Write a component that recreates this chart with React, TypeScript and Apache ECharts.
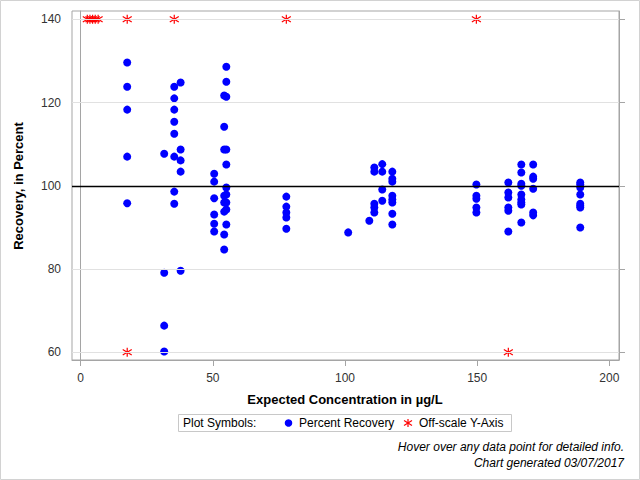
import React, { useEffect, useRef } from "react";
import * as echarts from "echarts";

// ---- data ----
const concentration = [17.6, 31.6, 35.4, 37.8, 50.5, 54.3, 55.1, 77.8, 101.2, 109.2, 111.1, 114.1, 117.9, 149.7, 161.8, 166.7, 171.2, 189.0];
const recovery = [
  [129.6, 123.8, 118.3, 107.0, 95.8],
  [107.7, 79.1, 66.4, 60.2],
  [123.8, 121.0, 118.3, 115.4, 112.5, 107.0, 98.6, 95.7],
  [124.8, 108.7, 106.1, 103.4, 79.6],
  [102.9, 101.0, 97.0, 93.1, 90.9, 89.0],
  [121.7, 114.2, 108.7, 97.6, 96.0, 93.8, 88.3, 84.7],
  [128.6, 125.0, 121.4, 108.7, 105.1, 99.6, 97.9, 96.0, 94.3, 90.7],
  [97.4, 95.0, 93.6, 92.4, 89.7],
  [88.8],
  [91.6],
  [104.4, 103.4, 95.7, 94.8, 93.6],
  [105.2, 103.4, 99.1, 96.4],
  [103.4, 101.7, 101.0, 97.6, 96.7, 96.0, 93.3, 90.7],
  [100.3, 97.6, 96.9, 94.8, 93.6],
  [100.8, 98.4, 97.2, 94.8, 94.0, 89.0],
  [105.1, 103.2, 100.5, 100.0, 97.9, 96.7, 96.0, 95.5, 91.2],
  [105.1, 102.2, 101.7, 99.3, 93.6, 92.9],
  [100.8, 100.3, 99.6, 97.9, 95.7, 95.2, 94.8, 90.0],
];
const offscaleX = [2.5, 3.5, 4.5, 5.5, 6.6, 17.6, 35.4, 77.8, 149.7, 17.6, 161.8];
const offscaleY = [140, 140, 140, 140, 140, 140, 140, 140, 140, 60, 60];
const xTicks = [0, 50, 100, 150, 200];
const yTicks = [60, 80, 100, 120, 140];
const referenceValue = 100;

const xTitle = "Expected Concentration in µg/L";
const yTitle = "Recovery, in Percent";
const legendLabel = "Plot Symbols:";
const seriesNames = ["Percent Recovery", "Off-scale Y-Axis"];
const footnotes = ["Hover over any data point for detailed info.", "Chart generated 03/07/2017"];

const FONT = "'Liberation Sans', Arial, sans-serif";
const STAR = "path://M0,-4L0,4M-4,-2.4L4,2.4M-4,2.4L4,-2.4";

export default function App() {
  const ref = useRef<HTMLDivElement>(null);
  useEffect(() => {
    if (!ref.current) return;
    const chart = echarts.init(ref.current, null, { renderer: "svg" });
    const recData: number[][] = [];
    concentration.forEach((c, i) => recovery[i].forEach((v) => recData.push([c, v])));
    const offData = offscaleX.map((x, i) => [x, offscaleY[i]]);

    const axisLineStyle = { color: "#a5a5a5", width: 1 };
    const yAxisBase = {
      type: "value",
      min: 58.15,
      max: 141.99,
      splitLine: { show: false },
      axisLine: { show: true, lineStyle: axisLineStyle },
      axisTick: { show: true, length: 6, customValues: yTicks, lineStyle: axisLineStyle },
    };

    chart.setOption({
      animation: false,
      backgroundColor: "#ffffff",
      textStyle: { fontFamily: FONT },
      grid: { left: 72, right: 21, top: 11, bottom: 120, show: true, borderColor: "#a5a5a5", borderWidth: 1 },
      xAxis: {
        type: "value",
        min: -3.29,
        max: 203.67,
        splitLine: { show: false },
        axisLine: { show: true, onZero: false, lineStyle: axisLineStyle },
        axisTick: { show: true, length: 6, customValues: xTicks, lineStyle: axisLineStyle },
        axisLabel: { customValues: xTicks, color: "#333", fontSize: 12, fontFamily: FONT, margin: 12 },
      },
      yAxis: [
        {
          ...yAxisBase,
          position: "left",
          axisLabel: { customValues: yTicks, color: "#333", fontSize: 12, fontFamily: FONT, margin: 11 },
        },
        {
          ...yAxisBase,
          position: "right",
          axisLabel: { show: false },
        },
      ],
      series: [
        {
          type: "scatter",
          silent: true,
          data: [],
          z: 1,
          markLine: {
            silent: true,
            symbol: "none",
            label: { show: false },
            lineStyle: { color: "#e1e1e1", width: 1, type: "solid" },
            data: yTicks.filter((v) => v !== referenceValue).map((v) => ({ yAxis: v })),
          },
        },
        {
          type: "scatter",
          silent: true,
          data: [],
          z: 2,
          markLine: {
            silent: true,
            symbol: "none",
            label: { show: false },
            lineStyle: { color: "#000000", width: 1.3, type: "solid" },
            data: [{ yAxis: referenceValue }],
          },
        },
        {
          name: seriesNames[0],
          type: "scatter",
          z: 3,
          symbol: "circle",
          symbolSize: 8,
          itemStyle: { color: "#0000ff", opacity: 1 },
          data: recData,
        },
        {
          name: seriesNames[1],
          type: "scatter",
          z: 4,
          clip: false,
          symbol: STAR,
          symbolSize: [9, 9],
          itemStyle: { color: "#ff0000", borderColor: "#ff0000", borderWidth: 1.2, opacity: 1 },
          data: offData,
        },
      ],
      graphic: [
        {
          type: "rect",
          shape: { x: 0.5, y: 0.5, width: 639, height: 479 },
          style: { fill: "none", stroke: "#d2d2d2", lineWidth: 1 },
          silent: true,
        },
        {
          type: "text",
          x: 345,
          y: 399,
          style: { text: xTitle, font: `bold 13px ${FONT}`, fill: "#000", align: "center", verticalAlign: "middle" },
        },
        {
          type: "text",
          x: 18,
          y: 186,
          rotation: Math.PI / 2,
          style: { text: yTitle, font: `bold 13px ${FONT}`, fill: "#000", align: "center", verticalAlign: "middle" },
        },
        {
          type: "rect",
          shape: { x: 178.5, y: 414.5, width: 333, height: 17 },
          style: { fill: "#fff", stroke: "#c8c8c8", lineWidth: 1 },
        },
        {
          type: "text",
          x: 183,
          y: 423,
          style: { text: legendLabel, font: `12px ${FONT}`, fill: "#000", align: "left", verticalAlign: "middle" },
        },
        {
          type: "circle",
          shape: { cx: 288.5, cy: 423, r: 3.8 },
          style: { fill: "#0000ff" },
        },
        {
          type: "text",
          x: 299,
          y: 423,
          style: { text: seriesNames[0], font: `12px ${FONT}`, fill: "#000", align: "left", verticalAlign: "middle" },
        },
        {
          type: "group",
          x: 408,
          y: 423,
          children: [
            { type: "line", shape: { x1: 0, y1: -4, x2: 0, y2: 4 }, style: { stroke: "#ff0000", lineWidth: 1.2 } },
            { type: "line", shape: { x1: -4, y1: -2.4, x2: 4, y2: 2.4 }, style: { stroke: "#ff0000", lineWidth: 1.2 } },
            { type: "line", shape: { x1: -4, y1: 2.4, x2: 4, y2: -2.4 }, style: { stroke: "#ff0000", lineWidth: 1.2 } },
          ],
        },
        {
          type: "text",
          x: 419,
          y: 423,
          style: { text: seriesNames[1], font: `12px ${FONT}`, fill: "#000", align: "left", verticalAlign: "middle" },
        },
        {
          type: "text",
          x: 624,
          y: 447,
          style: { text: footnotes[0], font: `italic 12px ${FONT}`, fill: "#000", align: "right", verticalAlign: "middle" },
        },
        {
          type: "text",
          x: 624,
          y: 463,
          style: { text: footnotes[1], font: `italic 12px ${FONT}`, fill: "#000", align: "right", verticalAlign: "middle" },
        },
      ],
    });
    return () => chart.dispose();
  }, []);

  return <div ref={ref} style={{ position: "fixed", left: 0, top: 0, width: 640, height: 480 }} />;
}
